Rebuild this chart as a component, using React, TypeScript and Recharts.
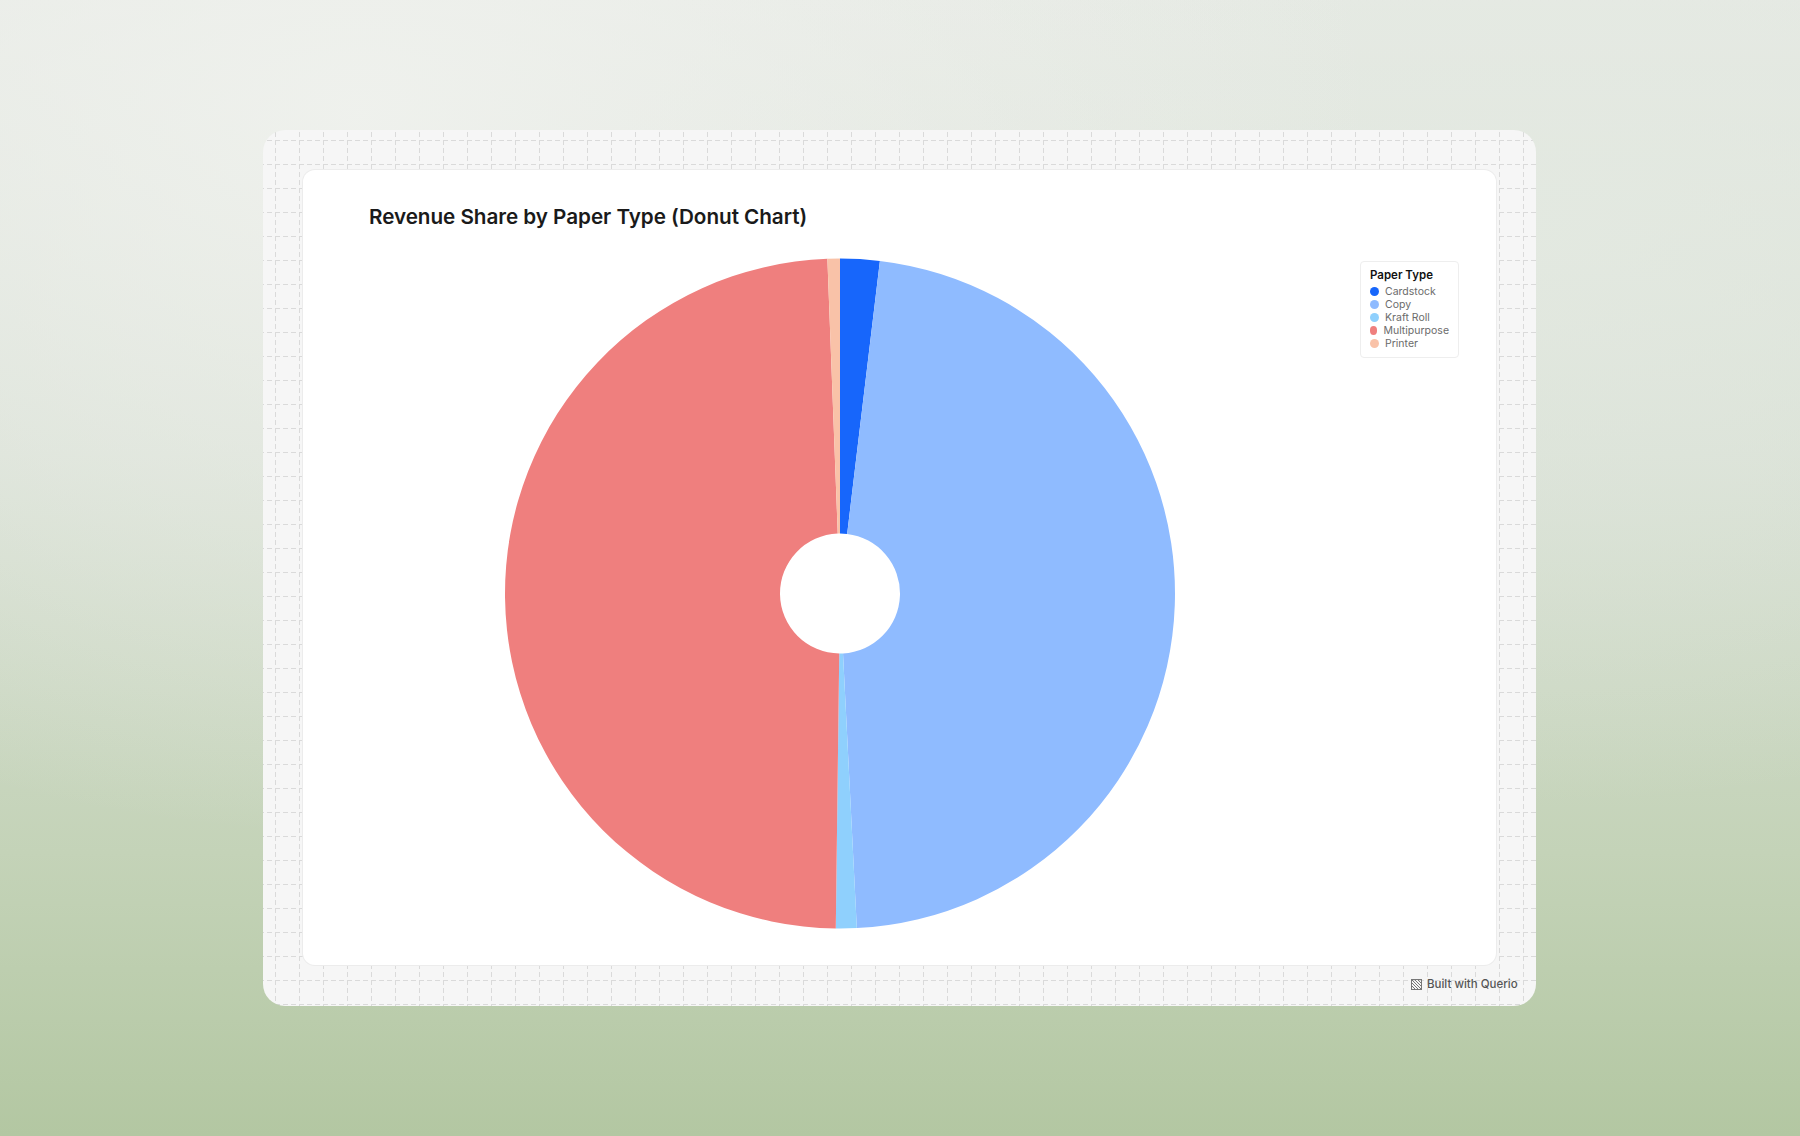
import { PieChart, Pie, Cell } from "recharts";

const PAPER_TYPES = ["Cardstock", "Copy", "Kraft Roll", "Multipurpose", "Printer"];
const REVENUE_SHARE = [1.9, 47.3, 1.0, 49.2, 0.6];
const SLICE_COLORS = ["#1766fb", "#8fbbff", "#8fd0fd", "#ef7f7e", "#f9c2a8"];

const data = PAPER_TYPES.map((name, i) => ({ name, value: REVENUE_SHARE[i] }));

const gridSvg =
  "url(\"data:image/svg+xml;utf8," +
  encodeURIComponent(
    `<svg xmlns='http://www.w3.org/2000/svg' width='24' height='24'><path d='M0 0.5H24M0.5 0V24' stroke='#dadada' stroke-width='1' stroke-dasharray='5 3' fill='none'/></svg>`
  ) +
  "\")";

function LegendBox() {
  return (
    <div
      style={{
        position: "absolute",
        left: 1057,
        top: 91,
        width: 99,
        height: 97,
        border: "1px solid #eeeeee",
        borderRadius: 4,
        background: "#fff",
        boxSizing: "border-box",
        padding: "6px 9px",
        fontFamily: "Inter, 'Noto Sans', sans-serif",
      }}
    >
      <div style={{ fontSize: 11.5, fontWeight: 600, color: "#111", marginBottom: 3 }}>Paper Type</div>
      {PAPER_TYPES.map((name, i) => (
        <div key={name} style={{ display: "flex", alignItems: "center", height: 12.9 }}>
          <span
            style={{
              width: 9,
              height: 9,
              borderRadius: "50%",
              background: SLICE_COLORS[i],
              marginRight: 6,
              display: "inline-block",
            }}
          />
          <span style={{ fontSize: 10.5, color: "#6b6b6b" }}>{name}</span>
        </div>
      ))}
    </div>
  );
}

export default function App() {
  return (
    <div
      style={{
        position: "absolute",
        left: 0,
        top: 0,
        width: 1800,
        height: 1136,
        overflow: "hidden",
        background:
          "radial-gradient(ellipse at 20% 10%, rgba(240,242,238,0.9), transparent 50%), radial-gradient(ellipse at 85% 20%, rgba(228,234,226,0.8), transparent 45%), linear-gradient(180deg, #e6e9e4 0%, #d7dfd3 40%, #c4d3b8 75%, #b3c7a2 100%)",
      }}
    >
      {/* outer card with dashed grid */}
      <div
        style={{
          position: "absolute",
          left: 263,
          top: 130,
          width: 1273,
          height: 876,
          borderRadius: 22,
          backgroundColor: "#f6f6f6",
          backgroundImage: gridSvg,
          backgroundPosition: "12px 10px",
        }}
      />
      {/* white panel */}
      <div
        style={{
          position: "absolute",
          left: 303,
          top: 170,
          width: 1193,
          height: 795,
          borderRadius: 12,
          background: "#ffffff",
          boxShadow: "0 0 0 1px #ececec",
        }}
      >
        <div
          style={{
            position: "absolute",
            left: 66,
            top: 34,
            fontFamily: "Inter, 'Noto Sans', sans-serif",
            fontSize: 20.7,
            fontWeight: 600,
            color: "#1a1a1a",
            letterSpacing: -0.05,
          }}
        >
          Revenue Share by Paper Type (Donut Chart)
        </div>
        <div style={{ position: "absolute", left: 0, top: 0 }}>
          <PieChart width={1193} height={795} margin={{ top: 0, right: 0, bottom: 0, left: 0 }}>
            <Pie
              data={data}
              dataKey="value"
              nameKey="name"
              cx={537}
              cy={423.5}
              innerRadius={60}
              outerRadius={335}
              startAngle={90}
              endAngle={-270}
              stroke="none"
              isAnimationActive={false}
            >
              {data.map((d, i) => (
                <Cell key={d.name} fill={SLICE_COLORS[i]} />
              ))}
            </Pie>
          </PieChart>
        </div>
        <LegendBox />
      </div>
      <div
        style={{
          position: "absolute",
          left: 1411,
          top: 977,
          fontFamily: "Inter, 'Noto Sans', sans-serif",
          fontSize: 11.5,
          fontWeight: 500,
          color: "#555",
          display: "flex",
          alignItems: "center",
        }}
      >
        <svg width="11" height="11" viewBox="0 0 11 11" style={{ marginRight: 5 }}>
          <path d="M1 1L10 10M1 4L7 10M4 1L10 7M1 7L4 10M7 1L10 4" stroke="#777" strokeWidth="1" fill="none" />
          <rect x="0.5" y="0.5" width="10" height="10" stroke="#777" fill="none" />
        </svg>
        Built with Querio
      </div>
    </div>
  );
}
